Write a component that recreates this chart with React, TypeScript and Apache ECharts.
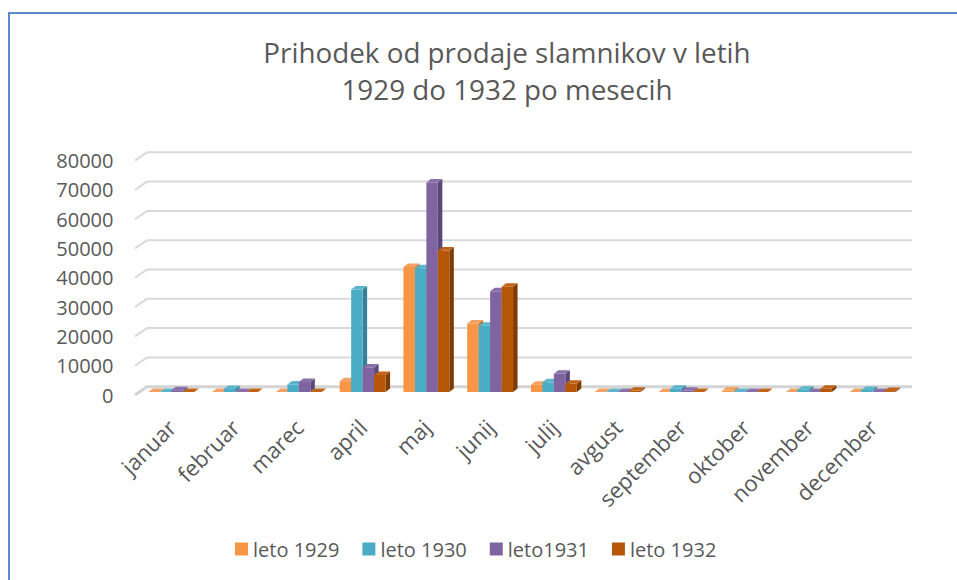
import React, { useEffect, useRef } from "react";
import * as echarts from "echarts";

const months = ["januar", "februar", "marec", "april", "maj", "junij", "julij", "avgust", "september", "oktober", "november", "december"];
const seriesNames = ["leto 1929", "leto 1930", "leto1931", "leto 1932"];
const leto1929 = [0, 0, 0, 3700, 42700, 23400, 2500, 0, 0, 500, 0, 0];
const leto1930 = [0, 1000, 2600, 35000, 42200, 22600, 3300, 0, 1100, 0, 800, 700];
const leto1931 = [600, 0, 3400, 8400, 71500, 34400, 6200, 0, 400, 0, 0, 0];
const leto1932 = [0, 0, 0, 5800, 48300, 35900, 2800, 400, 0, 0, 1100, 300];
const yTicks = [0, 10000, 20000, 30000, 40000, 50000, 60000, 70000, 80000];

const frontColors = ["#F79646", "#4BACC6", "#8064A2", "#B65708"];
const sideColors = ["#B96A2C", "#34829A", "#5C4878", "#7E3C04"];
const topColors = ["#F3A263", "#5DB5CC", "#8A70AA", "#C0641A"];

const DX = 4.5;
const DY = -3.5;

export default function App() {
  const ref = useRef<HTMLDivElement>(null);
  useEffect(() => {
    if (!ref.current) return;
    const chart = echarts.init(ref.current, null, { renderer: "svg" });
    const allData = [leto1929, leto1930, leto1931, leto1932];

    const wallSeries = {
      type: "custom",
      name: "wall",
      silent: true,
      z: 1,
      data: yTicks.map((v) => [0, v]),
      renderItem: (params: any, api: any) => {
        const p = api.coord([0, api.value(1)]);
        const cs = params.coordSys;
        const left = cs.x;
        const right = cs.x + cs.width;
        const y = p[1];
        const isFloor = api.value(1) === 0;
        return {
          type: "polyline",
          shape: {
            points: [
              [left - 4.5, y + 3],
              [left + 7.5, y - 5.3],
              [right + 7.5, y - 5.3],
            ],
          },
          style: { stroke: isFloor ? "#d4d4d4" : "#d9d9d9", lineWidth: isFloor ? 3 : 2, fill: "none" },
        };
      },
    };

    const barSeries = allData.map((vals, s) => ({
      type: "custom",
      name: seriesNames[s],
      z: 2 + s,
      itemStyle: { color: frontColors[s] },
      data: vals.map((v, i) => [i, v]),
      renderItem: (params: any, api: any) => {
        const c = api.value(0);
        const v = api.value(1);
        const top = api.coord([c, v]);
        const base = api.coord([c, 0]);
        const band = api.size([1, 0])[0];
        const bw = band * 0.18;
        const x0 = top[0] + (s - 2) * bw;
        const x1 = x0 + bw;
        const y = top[1];
        const y0 = base[1];
        return {
          type: "group",
          children: [
            {
              type: "polygon",
              shape: { points: [[x1, y0], [x1 + DX, y0 + DY], [x1 + DX, y + DY], [x1, y]] },
              style: { fill: sideColors[s] },
            },
            {
              type: "rect",
              shape: { x: x0, y: y, width: bw, height: y0 - y },
              style: { fill: frontColors[s] },
            },
            {
              type: "polygon",
              shape: { points: [[x0, y], [x1, y], [x1 + DX, y + DY], [x0 + DX, y + DY]] },
              style: { fill: topColors[s] },
            },
          ],
        };
      },
    }));

    const option: any = {
      animation: false,
      backgroundColor: "#ffffff",
      textStyle: { fontFamily: "Open Sans" },
      title: {
        text: "Prihodek od prodaje slamnikov v letih\n1929 do 1932 po mesecih",
        left: 502,
        top: 28,
        textAlign: "center",
        textStyle: {
          fontFamily: "Open Sans",
          fontSize: 27.8,
          fontWeight: "normal",
          color: "#595959",
          lineHeight: 37,
        },
      },
      legend: {
        data: seriesNames,
        left: 235,
        top: 539,
        padding: 0,
        icon: "rect",
        itemWidth: 13,
        itemHeight: 13,
        itemGap: 23,
        textStyle: { fontFamily: "Open Sans", fontSize: 20, color: "#595959" },
      },
      grid: { left: 139.5, right: 957 - 904.5, top: 157.6, bottom: 580 - 392 },
      xAxis: {
        type: "category",
        data: months,
        axisLine: { show: false },
        axisTick: { show: false },
        axisLabel: {
          rotate: 45,
          margin: 31,
          interval: 0,
          fontFamily: "Open Sans",
          fontSize: 22,
          color: "#595959",
        },
      },
      yAxis: {
        type: "value",
        min: 0,
        max: 80000,
        interval: 10000,
        splitLine: { show: false },
        axisLine: { show: false },
        axisTick: { show: false },
        axisLabel: {
          margin: 26,
          fontFamily: "Open Sans",
          fontSize: 20,
          color: "#595959",
          verticalAlign: "top",
          lineHeight: 6,
          formatter: (v: number) => String(v),
        },
      },
      graphic: [
        {
          type: "polyline",
          silent: true,
          shape: { points: [[9, 580], [9, 13], [957, 13]] },
          style: { stroke: "#5B8BCB", lineWidth: 2, fill: "none" },
        },
      ],
      series: [wallSeries, ...barSeries],
    };
    chart.setOption(option);
    return () => chart.dispose();
  }, []);
  return (
    <div
      ref={ref}
      style={{ position: "absolute", left: 0, top: 0, width: 957, height: 580 }}
    />
  );
}
